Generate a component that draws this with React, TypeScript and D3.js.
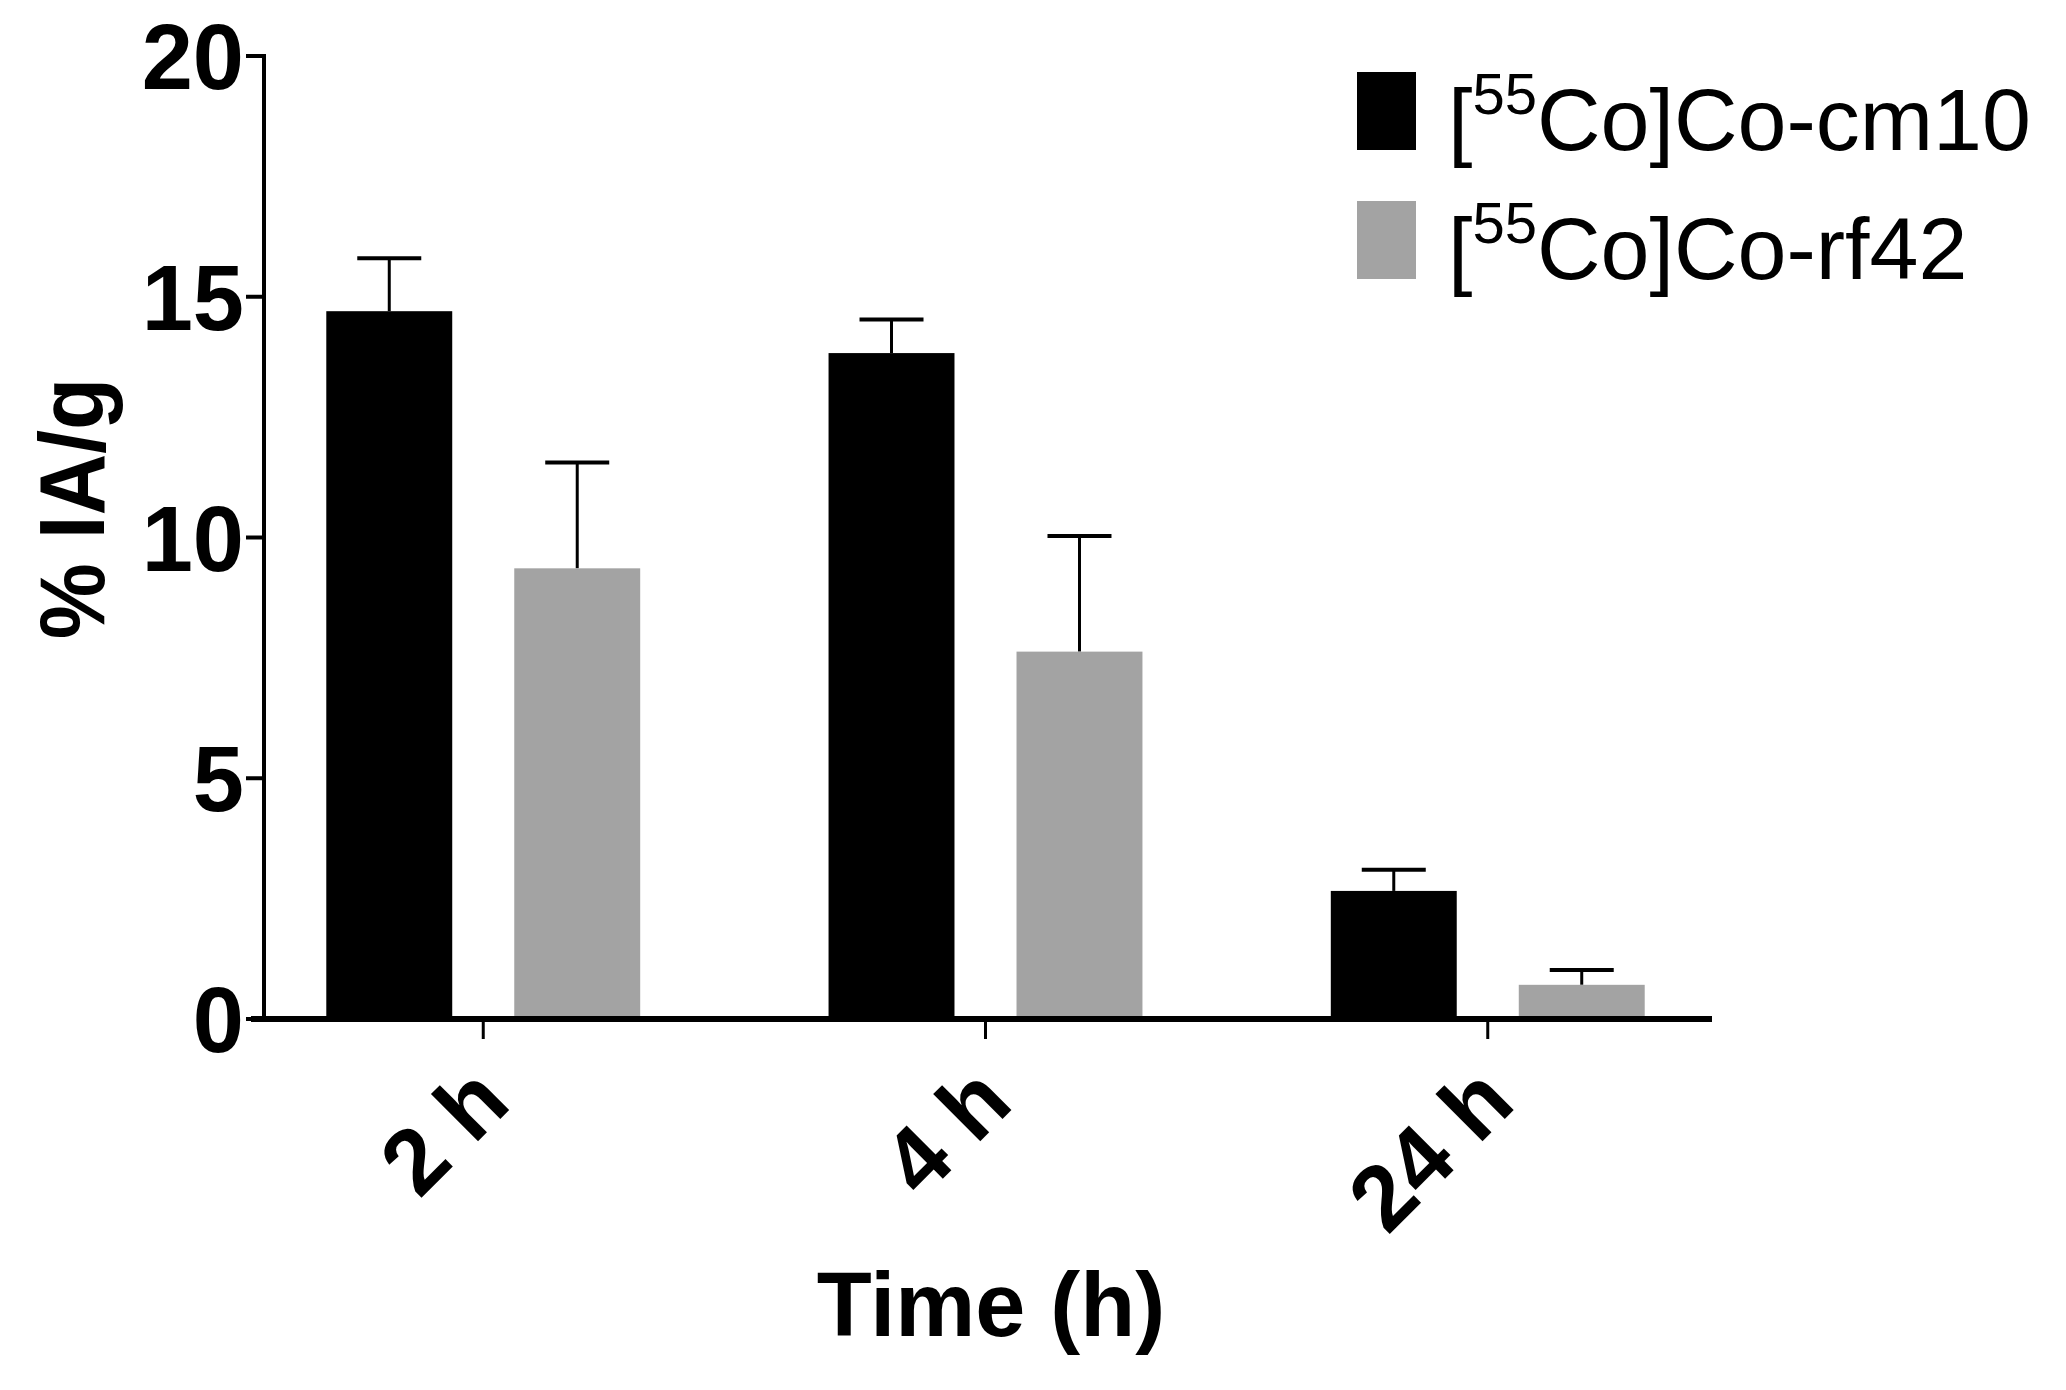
import React from 'react';
import * as d3 from 'd3';

const timePoints = ['2 h', '4 h', '24 h'];
const seriesNames = ['cm10', 'rf42'];
const cm10Means = [14.7, 13.83, 2.66];
const cm10Errors = [1.1, 0.7, 0.44];
const rf42Means = [9.36, 7.63, 0.71];
const rf42Errors = [2.2, 2.4, 0.31];
const yTicks = [0, 5, 10, 15, 20];

const W = 2066;
const H = 1390;
const FONT = '"Liberation Sans", Arial, Helvetica, sans-serif';

const seriesColors: Record<string, string> = { cm10: '#000000', rf42: '#a3a3a3' };

export default function App() {
  const axisX = 264;
  const x = d3.scaleBand<string>().domain(timePoints).range([261, 1710]).paddingInner(0.375).paddingOuter(0.13);
  const xs = d3.scaleBand<string>().domain(seriesNames).range([0, x.bandwidth()]).paddingInner(0.33);
  const y = d3.scaleLinear().domain([0, 20]).range([1019, 56]);

  const rows = timePoints.flatMap((t, i) => [
    { t, s: 'cm10', v: cm10Means[i], e: cm10Errors[i] },
    { t, s: 'rf42', v: rf42Means[i], e: rf42Errors[i] },
  ]);

  return (
    <>
      <style>{'body{margin:0}'}</style>
      <svg width={W} height={H} viewBox={`0 0 ${W} ${H}`} style={{ display: 'block', background: '#fff' }}>
        {/* bars + error bars */}
        {rows.map((d, i) => {
          const bx = (x(d.t) ?? 0) + (xs(d.s) ?? 0);
          const cx = bx + xs.bandwidth() / 2;
          return (
            <g key={i}>
              <line x1={cx} x2={cx} y1={y(d.v)} y2={y(d.v + d.e)} stroke="#000" strokeWidth={3} />
              <line x1={cx - 32} x2={cx + 32} y1={y(d.v + d.e)} y2={y(d.v + d.e)} stroke="#000" strokeWidth={4} />
              <rect x={bx} y={y(d.v)} width={xs.bandwidth()} height={y(0) - y(d.v)} fill={seriesColors[d.s]} />
            </g>
          );
        })}

        {/* y axis */}
        <line x1={axisX} x2={axisX} y1={y(20) - 2} y2={y(0)} stroke="#000" strokeWidth={4} />
        {yTicks.map(t => (
          <g key={t}>
            <line x1={axisX - 18} x2={axisX} y1={y(t)} y2={y(t)} stroke="#000" strokeWidth={4} />
            <text x={axisX - 20} y={y(t)} dy="0.36em" textAnchor="end" fontFamily={FONT} fontWeight="bold" fontSize={92}>
              {t}
            </text>
          </g>
        ))}

        {/* x axis */}
        <line x1={251} x2={1712} y1={y(0)} y2={y(0)} stroke="#000" strokeWidth={6} />
        {timePoints.map(t => {
          const cx = (x(t) ?? 0) + x.bandwidth() / 2;
          return (
            <g key={t}>
              <line x1={cx} x2={cx} y1={y(0)} y2={y(0) + 20} stroke="#000" strokeWidth={3} />
              <text
                transform={`translate(${cx + 30},${y(0) + 87}) rotate(-45)`}
                textAnchor="end"
                fontFamily={FONT}
                fontWeight="bold"
                fontSize={92}
              >
                {t}
              </text>
            </g>
          );
        })}

        {/* axis titles */}
        <text x={991} y={1336} textAnchor="middle" fontFamily={FONT} fontWeight="bold" fontSize={90}>
          Time (h)
        </text>
        <text
          transform={`translate(104,${y(10) - 29}) rotate(-90) scale(0.93,1)`}
          textAnchor="middle"
          fontFamily={FONT}
          fontWeight="bold"
          fontSize={92}
        >
          % IA/g
        </text>

        {/* legend */}
        {seriesNames.map((s, i) => {
          const base = 150 + i * 129;
          return (
            <g key={s}>
              <rect x={1357} y={base - 78} width={59} height={78} fill={seriesColors[s]} />
              <text x={1448} y={base} fontFamily={FONT} fontSize={88}>
                [<tspan fontSize={58} dy={-36}>55</tspan>
                <tspan dy={36}>Co]Co-{s}</tspan>
              </text>
            </g>
          );
        })}
      </svg>
    </>
  );
}
